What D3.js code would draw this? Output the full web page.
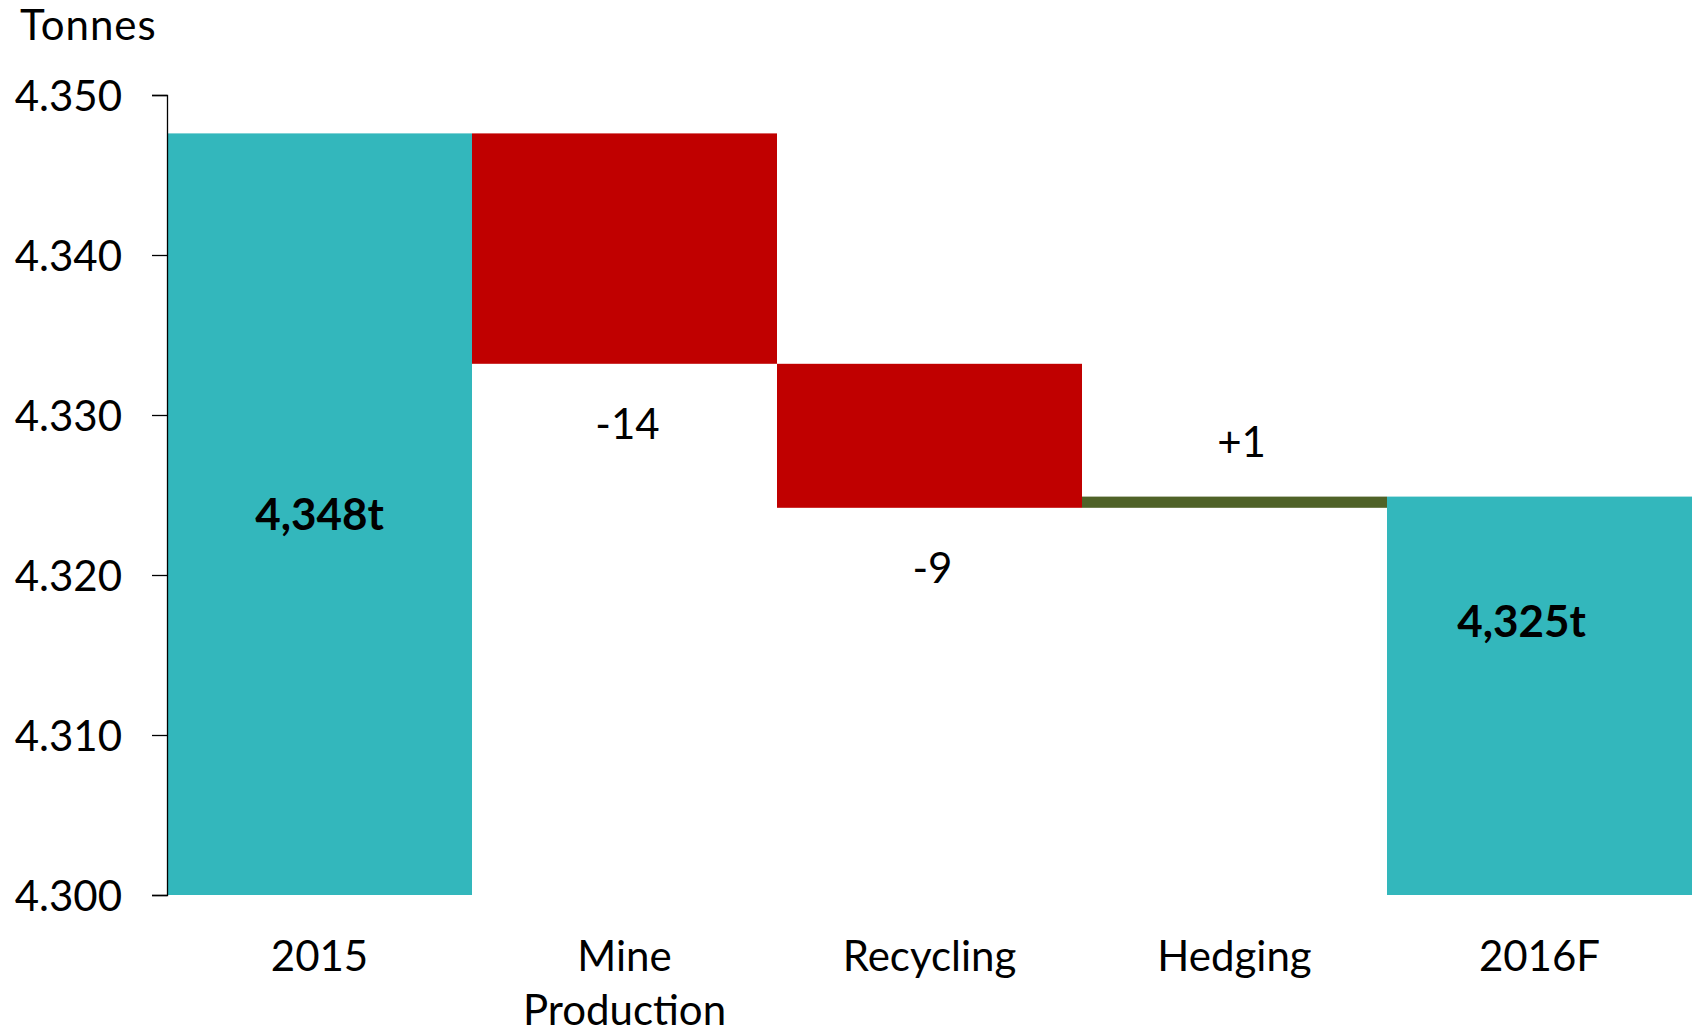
<!DOCTYPE html>
<html>
<head>
<meta charset="utf-8">
<script src="https://cdn.jsdelivr.net/npm/d3@7"></script>
<style>
  html, body { margin: 0; padding: 0; background: #fff; }
  svg { display: block; }
  text { font-family: Lato, "Open Sans", sans-serif; fill: #000; }
</style>
</head>
<body>
<svg id="chart" width="1698" height="1035"></svg>
<script>
// ---- data ----
const categories = ["2015", "Mine Production", "Recycling", "Hedging", "2016F"];
const values = [4347.6, -14.4, -9.0, 0.7, 4324.9];
const kinds = ["total", "delta", "delta", "delta", "total"];
const valueLabels = ["4,348t", "-14", "-9", "+1", "4,325t"];
const tickValues = [4300, 4310, 4320, 4330, 4340, 4350];
const tickLabels = ["4.300", "4.310", "4.320", "4.330", "4.340", "4.350"];
const yAxisTitle = "Tonnes";

// ---- layout ----
const svg = d3.select("#chart");
const x = d3.scaleBand().domain(categories).range([167, 1692]).padding(0);
const y = d3.scaleLinear().domain([4300, 4350]).range([895, 95]);

const colors = { total: "#33B7BC", down: "#C00000", up: "#4F6228" };

// waterfall geometry
let running = 0;
const bars = categories.map((c, i) => {
  let lo, hi, color;
  if (kinds[i] === "total") {
    lo = 4300; hi = values[i]; running = values[i]; color = colors.total;
  } else {
    const start = running, end = running + values[i];
    lo = Math.min(start, end); hi = Math.max(start, end);
    running = end;
    color = values[i] < 0 ? colors.down : colors.up;
  }
  return { c, i, lo, hi, color, v: values[i], kind: kinds[i], label: valueLabels[i] };
});

svg.append("g").selectAll("rect").data(bars).join("rect")
  .attr("x", d => x(d.c))
  .attr("width", x.bandwidth())
  .attr("y", d => y(d.hi))
  .attr("height", d => y(d.lo) - y(d.hi))
  .attr("fill", d => d.color);

// y axis
const yAxis = d3.axisLeft(y)
  .tickValues(tickValues)
  .tickFormat((d, i) => tickLabels[i])
  .tickSize(15)
  .tickPadding(30);
const gy = svg.append("g").attr("transform", "translate(167,0)").call(yAxis);
gy.select(".domain").attr("stroke", "#000").attr("stroke-width", 1.3);
gy.selectAll(".tick line").attr("stroke", "#000").attr("stroke-width", 1.3);
gy.selectAll(".tick text")
  .style("font-family", "Lato, sans-serif")
  .style("font-size", "42px")
  .attr("fill", "#000")
  .attr("dy", "0.36em");

svg.append("text")
  .attr("x", 20).attr("y", 40)
  .style("font-size", "42px")
  .style("letter-spacing", "1px")
  .text(yAxisTitle);

// category labels (wrap two-word label)
const catG = svg.append("g");
categories.forEach(c => {
  const t = catG.append("text")
    .attr("x", x(c) + x.bandwidth() / 2)
    .attr("y", 971)
    .attr("text-anchor", "middle")
    .style("font-size", "42px");
  const words = c === "Mine Production" ? ["Mine", "Production"] : [c];
  words.forEach((w, k) => {
    t.append("tspan").attr("x", x(c) + x.bandwidth() / 2).attr("dy", k === 0 ? 0 : 54).text(w);
  });
});

// value labels
const totalDy = { 0: 0, 4: -75 };
const totalDx = { 0: 0, 4: -18 };
svg.append("g").selectAll("text").data(bars).join("text")
  .attr("text-anchor", "middle")
  .attr("x", d => x(d.c) + x.bandwidth() / 2 + (d.kind === "total" ? totalDx[d.i] : (d.v > 0 ? 7 : 3)))
  .attr("y", d => {
    if (d.kind === "total") return (y(d.lo) + y(d.hi)) / 2 + 16 + totalDy[d.i];
    return d.v < 0 ? y(d.lo) + 75 : y(d.hi) - 40;
  })
  .style("font-size", d => d.kind === "total" ? "44px" : "42px")
  .style("font-weight", d => d.kind === "total" ? "bold" : "normal")
  .text(d => d.label);
</script>
</body>
</html>
